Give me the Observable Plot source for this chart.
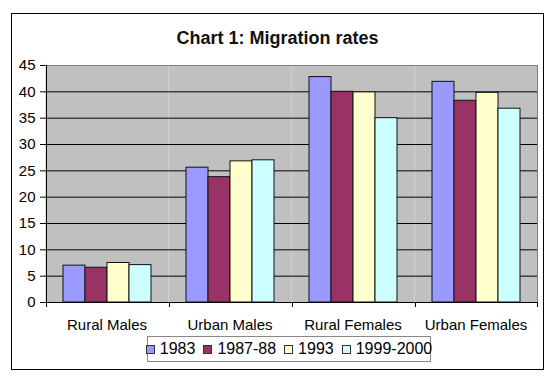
<!DOCTYPE html>
<html>
<head>
<meta charset="utf-8">
<script src="https://cdn.jsdelivr.net/npm/d3@7"></script>
<script src="https://cdn.jsdelivr.net/npm/@observablehq/plot@0.6"></script>
<style>
  html, body { margin: 0; padding: 0; background: #fff; }
  body { position: relative; width: 556px; height: 387px; overflow: hidden; font-family: "Liberation Sans", Arial, sans-serif; color: #000; }
  #border { position: absolute; left: 11px; top: 13px; width: 531px; height: 355px; border: 1px solid #000; pointer-events: none; }
  #title { position: absolute; left: 11px; width: 533px; top: 29px; text-align: center; font-weight: bold; font-size: 18px; line-height: 18px; color: #111; }
  #chart { position: absolute; left: 0; top: 0; }
  #legend { position: absolute; left: 147px; top: 336px; width: 282px; height: 24px; border: 1px solid #888; display: flex; align-items: center; justify-content: center; gap: 8px; font-size: 16px; background: #fff; }
  #legend .item { display: flex; align-items: center; gap: 5px; white-space: nowrap; }
  #legend .sw { width: 7px; height: 7px; border: 1px solid #333; }
</style>
</head>
<body>
<div id="chart"></div>
<div id="title">Chart 1: Migration rates</div>
<div id="legend"></div>
<div id="border"></div>
<script>
const categories = ["Rural Males", "Urban Males", "Rural Females", "Urban Females"];
const series = ["1983", "1987-88", "1993", "1999-2000"];
const values1983 = [7.0, 25.6, 42.8, 41.9];
const values1987 = [6.6, 23.8, 40.0, 38.3];
const values1993 = [7.5, 26.8, 39.9, 39.8];
const values1999 = [7.1, 27.0, 35.0, 36.8];
const seriesColors = ["#9999FF", "#993366", "#FFFFCC", "#CCFFFF"];
const yTicks = [0, 5, 10, 15, 20, 25, 30, 35, 40, 45];
const gridTicks = [5, 10, 15, 20, 25, 30, 35, 40];

const seriesValues = [values1983, values1987, values1993, values1999];
const data = categories.flatMap((c, i) =>
  series.map((s, j) => ({category: c, series: s, value: seriesValues[j][i]}))
);

const W = 556, H = 334, mL = 44, mR = 19, mT = 65, mB = 32;
const paddingOuter = 0.75;
const step = (W - mL - mR) / categories.length / (series.length + 2 * paddingOuter);
const edgeOffset = (paddingOuter + 0.5) * step;

const chart = Plot.plot({
  width: W, height: H,
  marginLeft: mL, marginRight: mR, marginTop: mT, marginBottom: mB,
  style: {fontFamily: "Liberation Sans, Arial, sans-serif", fontSize: "15px", color: "#000", background: "transparent", overflow: "visible"},
  fx: {domain: categories, padding: 0, label: null},
  x: {domain: series, paddingInner: 0, paddingOuter: paddingOuter, axis: null},
  y: {domain: [0, 45], label: null},
  color: {domain: series, range: seriesColors},
  marks: [
    Plot.frame({fill: "#c0c0c0", stroke: "none"}),
    Plot.ruleY(gridTicks, {stroke: "#000"}),
    Plot.ruleY([45], {stroke: "#808080"}),
    Plot.barY(data, {fx: "category", x: "series", y: "value", fill: "series", stroke: "#111", strokeWidth: 1}),
    Plot.ruleY([0], {stroke: "#000"}),
    Plot.ruleX([categories[0]], {fx: d => d, x: () => series[0], dx: -edgeOffset, y1: 0, y2: 45, stroke: "#000"}),
    Plot.ruleX([categories[categories.length - 1]], {fx: d => d, x: () => series[series.length - 1], dx: edgeOffset, y1: 0, y2: 45, stroke: "#808080"}),
    Plot.ruleX(categories, {fx: d => d, x: () => series[0], dx: -edgeOffset, y1: 0, y2: 0, insetBottom: -5, stroke: "#000"}),
    Plot.ruleX([categories[categories.length - 1]], {fx: d => d, x: () => series[series.length - 1], dx: edgeOffset, y1: 0, y2: 0, insetBottom: -5, stroke: "#000"}),
    Plot.axisY({ticks: yTicks, tickSize: 5, tickPadding: 5, fontSize: 15, label: null, stroke: "#000"}),
    Plot.axisFx({anchor: "bottom", tickSize: 0, tickPadding: 17, fontSize: 15, label: null})
  ]
});
document.getElementById("chart").appendChild(chart);

const legend = document.getElementById("legend");
series.forEach((s, i) => {
  const item = document.createElement("div");
  item.className = "item";
  const sw = document.createElement("div");
  sw.className = "sw";
  sw.style.background = seriesColors[i];
  const t = document.createElement("span");
  t.textContent = s;
  item.appendChild(sw);
  item.appendChild(t);
  legend.appendChild(item);
});
</script>
</body>
</html>
